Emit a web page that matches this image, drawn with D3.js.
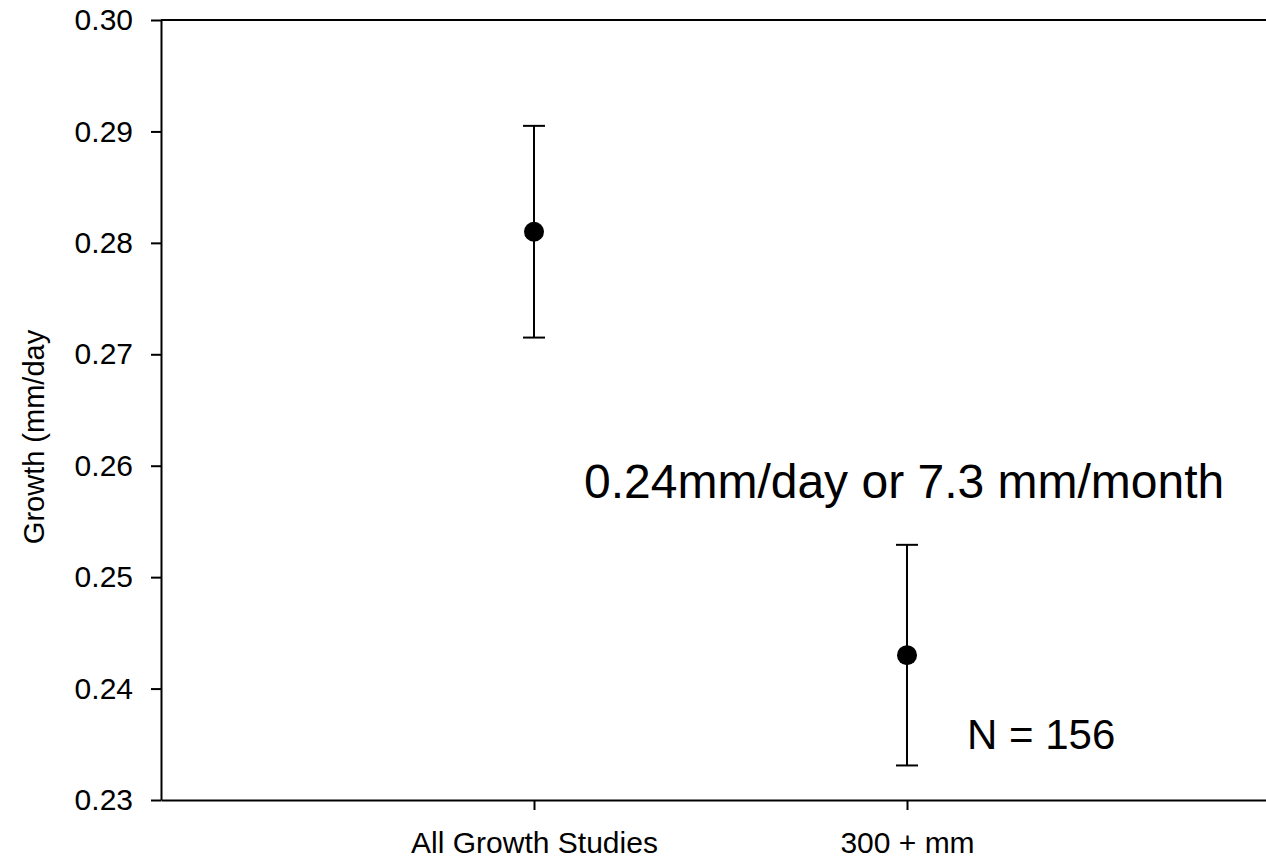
<!DOCTYPE html>
<html lang="en">
<head>
    <meta charset="UTF-8">
    <title>Growth (mm/day)</title>
    <script src="https://d3js.org/d3.v7.min.js"></script>
    <style>
        body { margin: 0; background: #fff; }
        text { font-family: "Liberation Sans", Arial, sans-serif; fill: #000; }
    </style>
</head>
<body>
    <script>
        // Data
        const categories = ["All Growth Studies", "300 + mm"];
        const means = [0.281, 0.243];
        const errors = [0.0095, 0.0099];
        const yTicks = [0.23, 0.24, 0.25, 0.26, 0.27, 0.28, 0.29, 0.30];

        const width = 1266;
        const height = 860;

        const svg = d3.select("body").append("svg")
            .attr("width", width)
            .attr("height", height);

        // Categories sit at 1 and 2 on a 0..3 axis that runs off the right edge
        const x = d3.scaleLinear().domain([0, 3]).range([161, 1280]);
        const y = d3.scaleLinear().domain([0.23, 0.30]).range([800, 20]);

        // y axis
        const yAxis = svg.append("g")
            .attr("transform", "translate(161,0)")
            .call(d3.axisLeft(y).tickValues(yTicks).tickFormat(d3.format(".2f")).tickSize(10).tickSizeOuter(0));
        yAxis.select(".domain").attr("stroke", "#000").attr("stroke-width", 2);
        yAxis.selectAll(".tick line").attr("stroke", "#000").attr("stroke-width", 2);
        yAxis.selectAll(".tick text")
            .attr("x", -28)
            .attr("font-size", 30)
            .attr("font-family", "Liberation Sans, Arial, sans-serif");

        // x axis at the bottom
        const xAxis = svg.append("g")
            .attr("transform", "translate(0,800)")
            .call(d3.axisBottom(x).tickValues([1, 2]).tickFormat((d, i) => categories[i]).tickSize(10).tickSizeOuter(0));
        xAxis.select(".domain").attr("stroke", "#000").attr("stroke-width", 2);
        xAxis.selectAll(".tick line").attr("stroke", "#000").attr("stroke-width", 2);
        xAxis.selectAll(".tick text")
            .attr("y", 32)
            .attr("dy", "0.71em")
            .attr("font-size", 30)
            .attr("font-family", "Liberation Sans, Arial, sans-serif");

        // top border line
        svg.append("line")
            .attr("x1", x(0)).attr("x2", x(3))
            .attr("y1", y(0.30)).attr("y2", y(0.30))
            .attr("stroke", "#000").attr("stroke-width", 2);

        // error bars
        const pts = categories.map((c, i) => ({ i: i + 1, m: means[i], e: errors[i] }));
        const bars = svg.append("g").selectAll("g").data(pts).enter().append("g");
        bars.append("line")
            .attr("x1", d => x(d.i)).attr("x2", d => x(d.i))
            .attr("y1", d => y(d.m + d.e)).attr("y2", d => y(d.m - d.e))
            .attr("stroke", "#000").attr("stroke-width", 2);
        [1, -1].forEach(s => {
            bars.append("line")
                .attr("x1", d => x(d.i) - 11).attr("x2", d => x(d.i) + 11)
                .attr("y1", d => y(d.m + s * d.e)).attr("y2", d => y(d.m + s * d.e))
                .attr("stroke", "#000").attr("stroke-width", 2);
        });
        bars.append("circle")
            .attr("cx", d => x(d.i)).attr("cy", d => y(d.m))
            .attr("r", 10).attr("fill", "#000");

        // y label
        svg.append("text")
            .attr("transform", "translate(44,437) rotate(-90)")
            .attr("text-anchor", "middle")
            .attr("font-size", 29)
            .text("Growth (mm/day");

        // annotations
        svg.append("text")
            .attr("x", 584).attr("y", 498)
            .attr("font-size", 48)
            .text("0.24mm/day or 7.3 mm/month");
        svg.append("text")
            .attr("x", 967).attr("y", 749)
            .attr("font-size", 42)
            .text("N = 156");
    </script>
</body>
</html>
